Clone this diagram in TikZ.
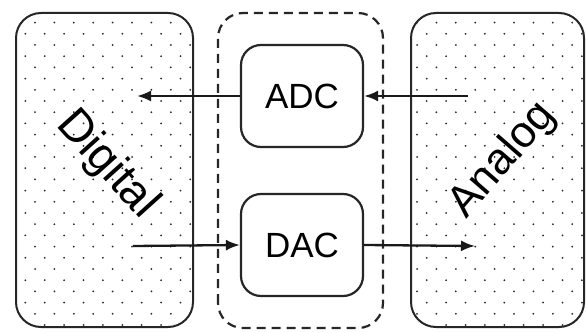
\documentclass[tikz,border=0pt]{standalone}
\usepackage{fontspec}
\setmainfont{Liberation Sans}
\usetikzlibrary{arrows.meta}

\tikzset{
  conv/.style={draw=black!85, line width=2.2pt, rounded corners=20pt,
    minimum width=122pt, minimum height=102pt, inner sep=0pt,
    font=\fontsize{35}{35}\selectfont},
  domainbox/.style={draw=black!85, line width=2pt, rounded corners=25pt},
  sig/.style={draw=black!90, line width=2.3pt, -{Latex[length=14pt,width=11pt]}}
}

\begin{document}
\begin{tikzpicture}[x=1pt, y=1pt]
	\useasboundingbox (0,0) rectangle (586,332);

	% dotted fill of the two domains
	\foreach \xa/\xb/\sh in {16/193/0, 411/584/-6} {
		\begin{scope}
			\clip[rounded corners=25pt] (\xa,5) rectangle (\xb,319);
			\foreach \r in {0,...,28} {
				\pgfmathsetmacro{\yy}{7+11.2*\r}
				\pgfmathsetmacro{\xo}{(mod(\r,2)==1 ? 35 : 44.7)+\sh}
				\foreach \k in {-1,...,30}
					\fill[black!85] (\xo+19.4*\k,\yy) circle (1pt);
			}
		\end{scope}
	}

	\draw [domainbox] (16,5) rectangle (193,319);
	\draw [domainbox] (411,5) rectangle (584,319);
	\draw [black!85, line width=2.2pt, dash pattern=on 9pt off 6pt, rounded corners=25pt] (218,4) rectangle (383,319);

	\node [conv] (adc) at (302,236) {ADC};
	\node [conv] (dac) at (302,87) {DAC};

	\node [rotate=-48, font=\fontsize{46}{46}\selectfont] (digital) at (107,167) {Digital};
	\node [rotate=49, font=\fontsize{44}{44}\selectfont] (analog) at (503,172) {Analog};

	\coordinate (adcin) at (468,236);
	\coordinate (adcout) at (137,236);
	\coordinate (dacin) at (133,86);
	\coordinate (dacout) at (475,86);

	\draw [sig] (adcin) -- (adc.east);
	\draw [sig] (adc.west) -- (adcout);
	\draw [sig] (dacin) -- (dac.west);
	\draw [sig] (dac.east) -- (dacout);

\end{tikzpicture}
\end{document}
